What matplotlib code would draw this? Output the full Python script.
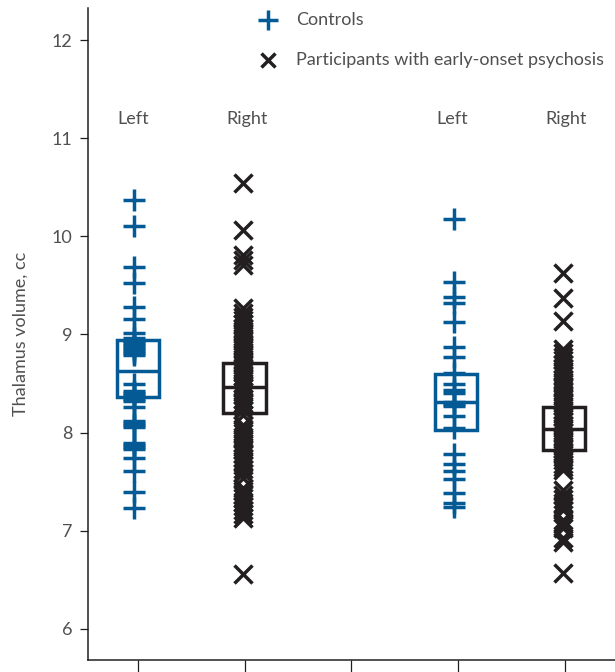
import matplotlib
matplotlib.use("Agg")
import matplotlib.pyplot as plt

# --- data (thalamus volume, cc) ---
ctrl_left_a = [10.37, 10.11, 9.69, 9.52, 9.28, 9.16, 9.01,
               8.96, 8.93, 8.91, 8.89, 8.87, 8.85, 8.83, 8.81, 8.79,
               8.50, 8.42, 8.40, 8.38, 8.36, 8.34, 8.32, 8.26,
               8.12, 8.10, 8.08, 8.06, 7.89, 7.87, 7.85, 7.83,
               7.74, 7.61, 7.39, 7.23]
pat_right_a = [10.54, 10.06, 9.81, 9.76, 9.71,
               9.27, 9.22, 9.18, 9.15, 9.11, 9.07, 9.04, 9.00, 8.96, 8.93,
               8.89, 8.86, 8.82, 8.79, 8.75, 8.72, 8.69, 8.65, 8.62, 8.58,
               8.55, 8.51, 8.48, 8.45, 8.41, 8.38, 8.34, 8.30, 8.27, 8.23,
               8.18, 8.08, 8.04, 8.00, 7.96, 7.93, 7.89, 7.85, 7.82, 7.78,
               7.74, 7.71, 7.67, 7.63, 7.59, 7.54, 7.44, 7.40, 7.36, 7.33,
               7.29, 7.25, 7.21, 7.17, 7.13, 6.56]
ctrl_left_b = [10.18, 9.53, 9.38, 9.32, 9.13, 8.87, 8.77, 8.61, 8.50,
               8.43, 8.40, 8.31, 8.29, 8.27, 8.17, 8.05, 7.78, 7.68,
               7.61, 7.53, 7.38, 7.28, 7.24]
pat_right_b = [9.63, 9.37, 9.14,
               8.85, 8.81, 8.77, 8.74, 8.70, 8.66, 8.63, 8.59, 8.55, 8.52,
               8.48, 8.45, 8.41, 8.37, 8.34, 8.30, 8.27, 8.23, 8.19, 8.16,
               8.12, 8.08, 8.05, 8.01, 7.97, 7.94, 7.90, 7.86, 7.83, 7.79,
               7.75, 7.72, 7.68, 7.65, 7.62,
               7.42, 7.36, 7.32, 7.28, 7.24, 7.21, 7.11, 7.07, 7.03,
               6.93, 6.89, 6.57]

point_x = [0.965, 1.98, 3.96, 4.98]
box_x = [1.0, 2.0, 3.98, 4.99]
box_low = [8.36, 8.20, 8.03, 7.82]
box_mid = [8.63, 8.46, 8.31, 8.04]
box_high = [8.94, 8.71, 8.60, 8.26]
side_labels = ['Left', 'Right', 'Left', 'Right']
label_x = [0.96, 2.02, 3.94, 5.01]

BLUE = '#045a95'
BLACK = '#231f20'
TXT = '#505050'
FONT = 'Lato'
FS = 13

fig = plt.figure(figsize=(6.15, 6.72), dpi=100)
ax = fig.add_axes([0.143, 0.018, 0.857, 0.970])

series = [ctrl_left_a, pat_right_a, ctrl_left_b, pat_right_b]
for i, vals in enumerate(series):
    is_ctrl = i % 2 == 0
    ax.plot([point_x[i]] * len(vals), vals, linestyle='none',
            marker='+' if is_ctrl else 'x',
            markersize=16.5 if is_ctrl else 12.5,
            markeredgewidth=2.5,
            color=BLUE if is_ctrl else BLACK, zorder=2)

# boxes (no whiskers)
box_cols = [BLUE, BLACK, BLUE, BLACK]
heights = [h - l for h, l in zip(box_high, box_low)]
ax.bar(box_x, heights, bottom=box_low, width=0.40, fill=False,
       edgecolor=box_cols, linewidth=2.5, zorder=3)
ax.hlines(box_mid, [x - 0.20 for x in box_x], [x + 0.20 for x in box_x],
          colors=box_cols, linewidth=2.5, zorder=3)

for x, s in zip(label_x, side_labels):
    ax.text(x, 11.2, s, ha='center', va='center', fontsize=FS,
            family=FONT, color=TXT)

# legend
ax.plot([2.22], [12.2], marker='+', markersize=14, markeredgewidth=2.5,
        color=BLUE, clip_on=False, linestyle='none')
ax.plot([2.22], [11.8], marker='x', markersize=10.5, markeredgewidth=2.5,
        color=BLACK, clip_on=False, linestyle='none')
ax.text(2.48, 12.2, 'Controls', va='center', ha='left', fontsize=FS,
        family=FONT, color=TXT)
ax.text(2.48, 11.8, 'Participants with early-onset psychosis', va='center',
        ha='left', fontsize=FS, family=FONT, color=TXT)

ax.set_xlim(0.532, 5.468)
ax.set_ylim(5.684, 12.326)
ax.set_xticks([1, 2, 3, 4, 5])
ax.set_xticklabels([])
ax.set_yticks([6, 7, 8, 9, 10, 11, 12])
ax.tick_params(axis='x', direction='out', length=8.6, width=0.9, color=BLACK)
ax.tick_params(axis='y', direction='out', length=6, width=0.9, color=BLACK,
               pad=5, labelsize=FS, labelcolor=TXT)
for lab in ax.get_yticklabels():
    lab.set_family(FONT)

ax.spines['top'].set_visible(False)
ax.spines['right'].set_visible(False)
for sp in ('left', 'bottom'):
    ax.spines[sp].set_linewidth(1.1)
    ax.spines[sp].set_color(BLACK)

ax.set_ylabel('Thalamus volume, cc', fontsize=FS, family=FONT,
              color=TXT, labelpad=17)

plt.savefig('out.png', dpi=100, facecolor='white')
plt.close()
